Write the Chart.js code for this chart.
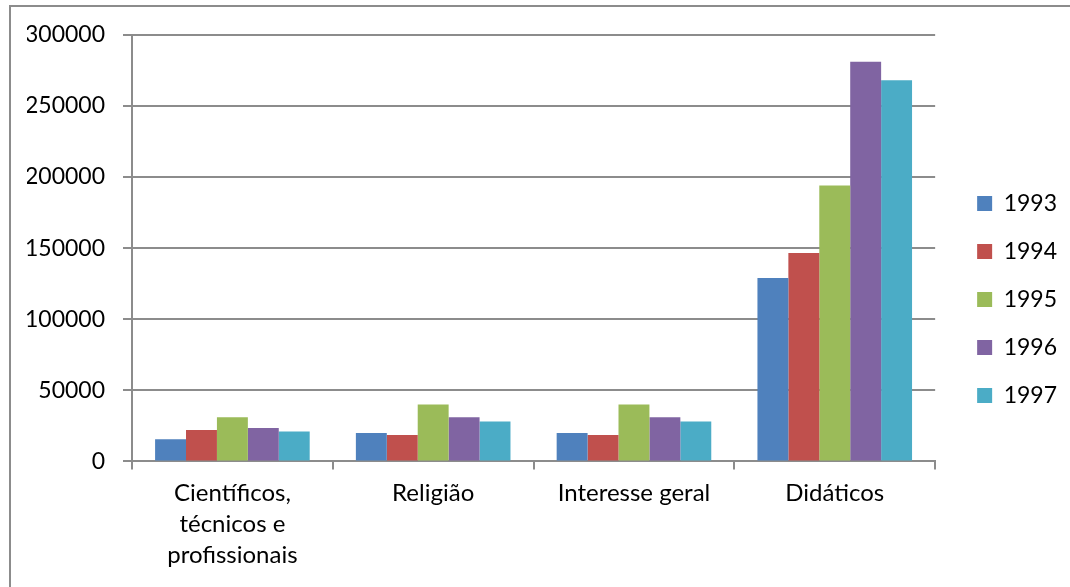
<!DOCTYPE html>
<html>
<head>
<meta charset="utf-8">
<script src="https://cdn.jsdelivr.net/npm/chart.js@4"></script>
<style>
  html, body { margin: 0; padding: 0; overflow: hidden; background: #fff; }
  #frame {
    position: absolute; left: 9px; top: 5px; overflow: hidden;
    width: 1070px; height: 590px;
    border-left: 2px solid #8c8c8c; border-top: 2px solid #8c8c8c;
  }
  canvas { display: block; position: relative; top: -4px; }
</style>
</head>
<body>
<div id="frame"><canvas id="chart" width="1056" height="583"></canvas></div>
<script>
let categories = [
  ["Científicos,", "técnicos e", "profissionais"],
  "Religião",
  "Interesse geral",
  "Didáticos",
];
let years = ["1993", "1994", "1995", "1996", "1997"];
let v1993 = [15500, 20000, 20000, 129000];
let v1994 = [22000, 18500, 18500, 146500];
let v1995 = [31000, 40000, 40000, 194000];
let v1996 = [23500, 31000, 31000, 281000];
let v1997 = [21000, 28000, 28000, 268000];
let yTicks = [0, 50000, 100000, 150000, 200000, 250000, 300000];

let colors = ["#4F81BD", "#C0504D", "#9BBB59", "#8064A2", "#4BACC6"];
let series = [v1993, v1994, v1995, v1996, v1997];
let gridColor = "#8c8c8c";

Chart.defaults.font.family = "Lato, 'Open Sans', sans-serif";
Chart.defaults.font.size = 23;
Chart.defaults.color = "#000";

// nudge the legend up a little, the original sits slightly above centre
let legendNudge = {
  id: "legendNudge",
  afterLayout(chart) {
    chart.legend.top -= 3.5;
    chart.legend.bottom -= 3.5;
  },
};

let ctx = document.getElementById("chart").getContext("2d");
let myChart = new Chart(ctx, {
  type: "bar",
  data: {
    labels: categories,
    datasets: years.map((y, i) => ({
      label: y,
      data: series[i],
      backgroundColor: colors[i],
      borderWidth: 0,
      barPercentage: 1,
      categoryPercentage: 0.77,
    })),
  },
  plugins: [legendNudge],
  options: {
    responsive: false,
    animation: false,
    layout: { padding: { left: 16, top: 24, bottom: 7, right: 0 } },
    plugins: {
      legend: {
        position: "right",
        labels: { boxWidth: 15, boxHeight: 15, padding: 25, font: { size: 23 } },
      },
      tooltip: { enabled: false },
    },
    scales: {
      x: {
        grid: {
          drawOnChartArea: false,
          color: gridColor,
          lineWidth: 2,
          tickLength: 8,
        },
        border: { color: gridColor, width: 2 },
        ticks: { padding: 8, maxRotation: 0, font: { size: 24, lineHeight: 1.3 } },
      },
      y: {
        min: 0,
        max: 300000,
        afterBuildTicks: (s) => { s.ticks = yTicks.map((v) => ({ value: v })); },
        afterFit: (s) => { s.width = 105; },
        grid: { color: gridColor, lineWidth: 2, tickLength: 9 },
        border: { color: gridColor, width: 2 },
        ticks: { padding: 18, font: { size: 23 }, callback: (v) => String(v) },
      },
      gap: {
        position: "right",
        type: "linear",
        grid: { display: false },
        border: { display: false },
        ticks: { display: false },
        afterFit: (s) => { s.width = 17; },
      },
    },
  },
});
</script>
</body>
</html>
